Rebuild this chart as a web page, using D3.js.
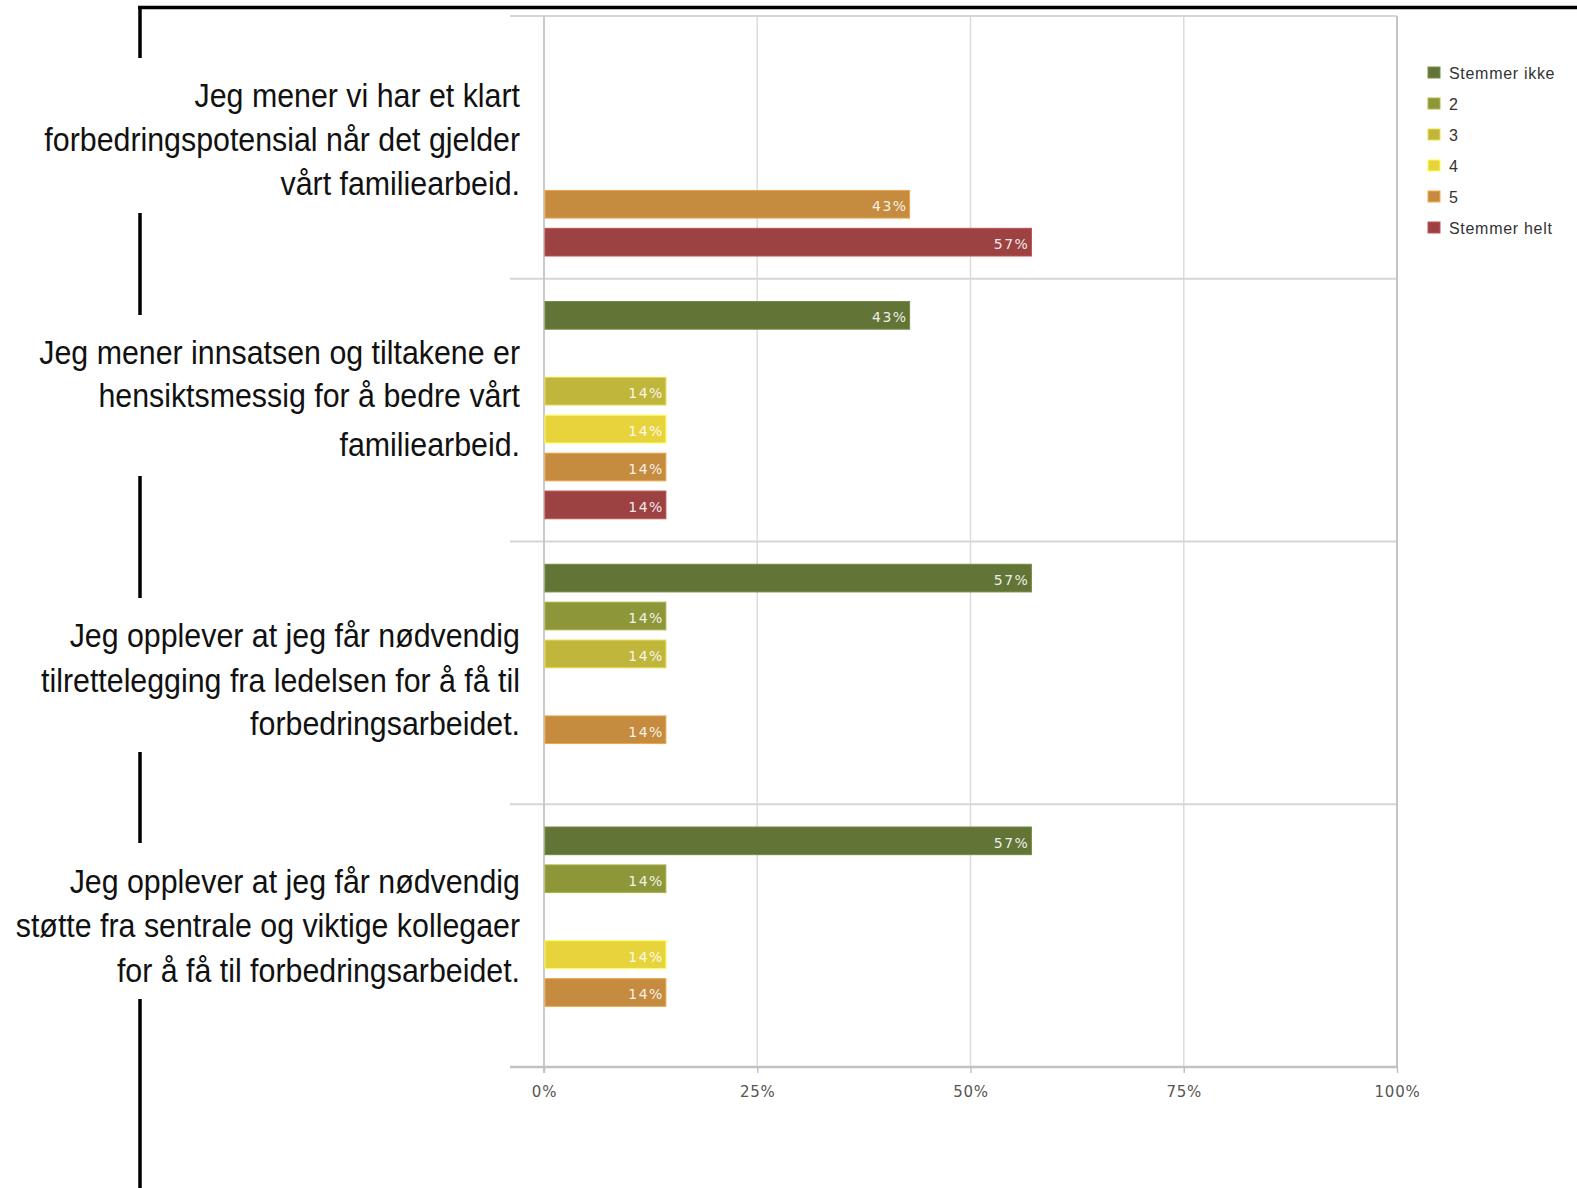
<!DOCTYPE html>
<html>
<head>
<meta charset="utf-8">
<script src="https://cdn.jsdelivr.net/npm/d3@7"></script>
<style>
  html, body { margin: 0; padding: 0; background: #fff; }
  svg { display: block; }
</style>
</head>
<body>
<svg id="chart" width="1577" height="1188"></svg>
<script>
// ---------- DATA ----------
const categories = [
  "Jeg mener vi har et klart forbedringspotensial når det gjelder vårt familiearbeid.",
  "Jeg mener innsatsen og tiltakene er hensiktsmessig for å bedre vårt familiearbeid.",
  "Jeg opplever at jeg får nødvendig tilrettelegging fra ledelsen for å få til forbedringsarbeidet.",
  "Jeg opplever at jeg får nødvendig støtte fra sentrale og viktige kollegaer for å få til forbedringsarbeidet."
];
const categoryLines = [
  ["Jeg mener vi har et klart", "forbedringspotensial når det gjelder", "vårt familiearbeid."],
  ["Jeg mener innsatsen og tiltakene er", "hensiktsmessig for å bedre vårt", "familiearbeid."],
  ["Jeg opplever at jeg får nødvendig", "tilrettelegging fra ledelsen for å få til", "forbedringsarbeidet."],
  ["Jeg opplever at jeg får nødvendig", "støtte fra sentrale og viktige kollegaer", "for å få til forbedringsarbeidet."]
];
const seriesNames = ["Stemmer ikke", "2", "3", "4", "5", "Stemmer helt"];
const seriesColors = ["#627436", "#8d9639", "#bfb63b", "#e7d33c", "#c58b3e", "#9d4242"];
// values (%) per series, one per category
const stemmerIkke = [0, 42.86, 57.14, 57.14];
const svar2       = [0, 0, 14.29, 14.29];
const svar3       = [0, 14.29, 14.29, 0];
const svar4       = [0, 14.29, 0, 14.29];
const svar5       = [42.86, 14.29, 14.29, 14.29];
const stemmerHelt = [57.14, 14.29, 0, 0];
const tickValues = [0, 25, 50, 75, 100];

const seriesValues = [stemmerIkke, svar2, svar3, svar4, svar5, stemmerHelt];

// ---------- LAYOUT ----------
const svg = d3.select("#chart");
const plot = { left: 544, right: 1397, top: 16, bottom: 1067, frameLeft: 510 };

const x = d3.scaleLinear().domain([0, 100]).range([plot.left, plot.right]);
const yCat = d3.scaleBand().domain(d3.range(categories.length))
  .range([plot.top, plot.bottom]).paddingInner(0).paddingOuter(0);
const ySer = d3.scaleBand().domain(d3.range(seriesNames.length))
  .range([0, yCat.bandwidth()]).paddingInner(0.27).paddingOuter(0.6);

// ---------- DECORATIVE BLACK BORDER ----------
svg.append("line").attr("x1", 138).attr("x2", 1577).attr("y1", 7.5).attr("y2", 7.5)
  .attr("stroke", "#000").attr("stroke-width", 3.5);
const vSegs = [[6, 58], [213, 315], [476, 598], [752, 843], [999, 1188]];
svg.selectAll(".vseg").data(vSegs).join("line")
  .attr("x1", 140).attr("x2", 140)
  .attr("y1", d => d[0]).attr("y2", d => d[1])
  .attr("stroke", "#000").attr("stroke-width", 3.5);

// ---------- GRID ----------
const g = svg.append("g");
g.selectAll(".vgrid").data(tickValues.filter(t => t > 0 && t < 100)).join("line")
  .attr("x1", d => x(d)).attr("x2", d => x(d))
  .attr("y1", plot.top).attr("y2", plot.bottom)
  .attr("stroke", "#dcdcdc").attr("stroke-width", 1.5);
g.selectAll(".hgrid").data(d3.range(categories.length)).join("line")
  .attr("x1", plot.frameLeft).attr("x2", plot.right)
  .attr("y1", d => yCat(d)).attr("y2", d => yCat(d))
  .attr("stroke", "#d6d6d6").attr("stroke-width", 2);
g.append("line").attr("x1", plot.right).attr("x2", plot.right)
  .attr("y1", plot.top).attr("y2", plot.bottom)
  .attr("stroke", "#c4c4c4").attr("stroke-width", 2);
g.append("line").attr("x1", x(0)).attr("x2", x(0))
  .attr("y1", plot.top).attr("y2", plot.bottom + 6)
  .attr("stroke", "#cacaca").attr("stroke-width", 2);

// ---------- BARS ----------
const barData = [];
categories.forEach((c, ci) => {
  seriesNames.forEach((s, si) => {
    const v = seriesValues[si][ci];
    if (v > 0) barData.push({ ci, si, v });
  });
});
const bars = svg.append("g");
bars.selectAll("rect").data(barData).join("rect")
  .attr("x", x(0) + 1)
  .attr("y", d => yCat(d.ci) + ySer(d.si))
  .attr("width", d => x(d.v) - x(0) - 1)
  .attr("height", ySer.bandwidth())
  .attr("fill", d => seriesColors[d.si])
  .attr("stroke", d => d3.color(seriesColors[d.si]).brighter(0.5))
  .attr("stroke-width", 1);
bars.selectAll("text").data(barData).join("text")
  .attr("x", d => x(d.v) - 2)
  .attr("y", d => yCat(d.ci) + ySer(d.si) + ySer.bandwidth() / 2 + 7)
  .attr("text-anchor", "end")
  .attr("font-family", "DejaVu Sans, Verdana, sans-serif")
  .attr("font-size", 14)
  .attr("letter-spacing", 1.5)
  .attr("fill", "#fff")
  .attr("fill-opacity", 0.9)
  .text(d => Math.round(d.v) + "%");

// ---------- X AXIS ----------
const axis = svg.append("g").attr("transform", `translate(0,${plot.bottom})`)
  .call(d3.axisBottom(x).tickValues(tickValues).tickSize(6).tickFormat(d => d + "%"));
axis.select(".domain").remove();
axis.append("line").attr("x1", plot.frameLeft).attr("x2", plot.right)
  .attr("y1", 0).attr("y2", 0).attr("stroke", "#c2c2c2").attr("stroke-width", 2.5);
axis.selectAll(".tick line").attr("stroke", "#c2c2c2").attr("stroke-width", 1.5);
axis.selectAll(".tick text")
  .attr("font-family", "DejaVu Sans, Verdana, sans-serif")
  .attr("font-size", 15)
  .attr("fill", "#555")
  .attr("y", 30)
  .attr("dy", 0)
  .attr("letter-spacing", 0.8);

// ---------- CATEGORY LABELS ----------
const lineOffsets = [[-44, 0, 44], [-43, 0, 49], [-45, 0, 43], [-44, 0, 44.5]];
const labelCenters = [139, 395, 680, 925];
const lab = svg.append("g");
categoryLines.forEach((lines, ci) => {
  lines.forEach((ln, li) => {
    lab.append("text")
      .attr("transform", `translate(520,${labelCenters[ci] + lineOffsets[ci][li] + 12}) scale(0.92,1)`)
      .attr("text-anchor", "end")
      .attr("font-family", "Liberation Sans, Arial, sans-serif")
      .attr("font-size", 33)
      .attr("fill", "#111")
      .text(ln);
  });
});

// ---------- LEGEND ----------
const leg = svg.append("g").attr("transform", "translate(1428,67)");
const li = leg.selectAll("g").data(seriesNames).join("g")
  .attr("transform", (d, i) => `translate(0,${i * 31})`);
li.append("rect").attr("width", 12).attr("height", 11)
  .attr("fill", (d, i) => seriesColors[i])
  .attr("stroke", (d, i) => d3.color(seriesColors[i]).brighter(0.6)).attr("stroke-width", 1);
li.append("text").attr("x", 21).attr("y", 12)
  .attr("font-family", "Liberation Sans, Arial, sans-serif")
  .attr("font-size", 16)
  .attr("letter-spacing", 0.7)
  .attr("fill", "#333")
  .text(d => d);
</script>
</body>
</html>
